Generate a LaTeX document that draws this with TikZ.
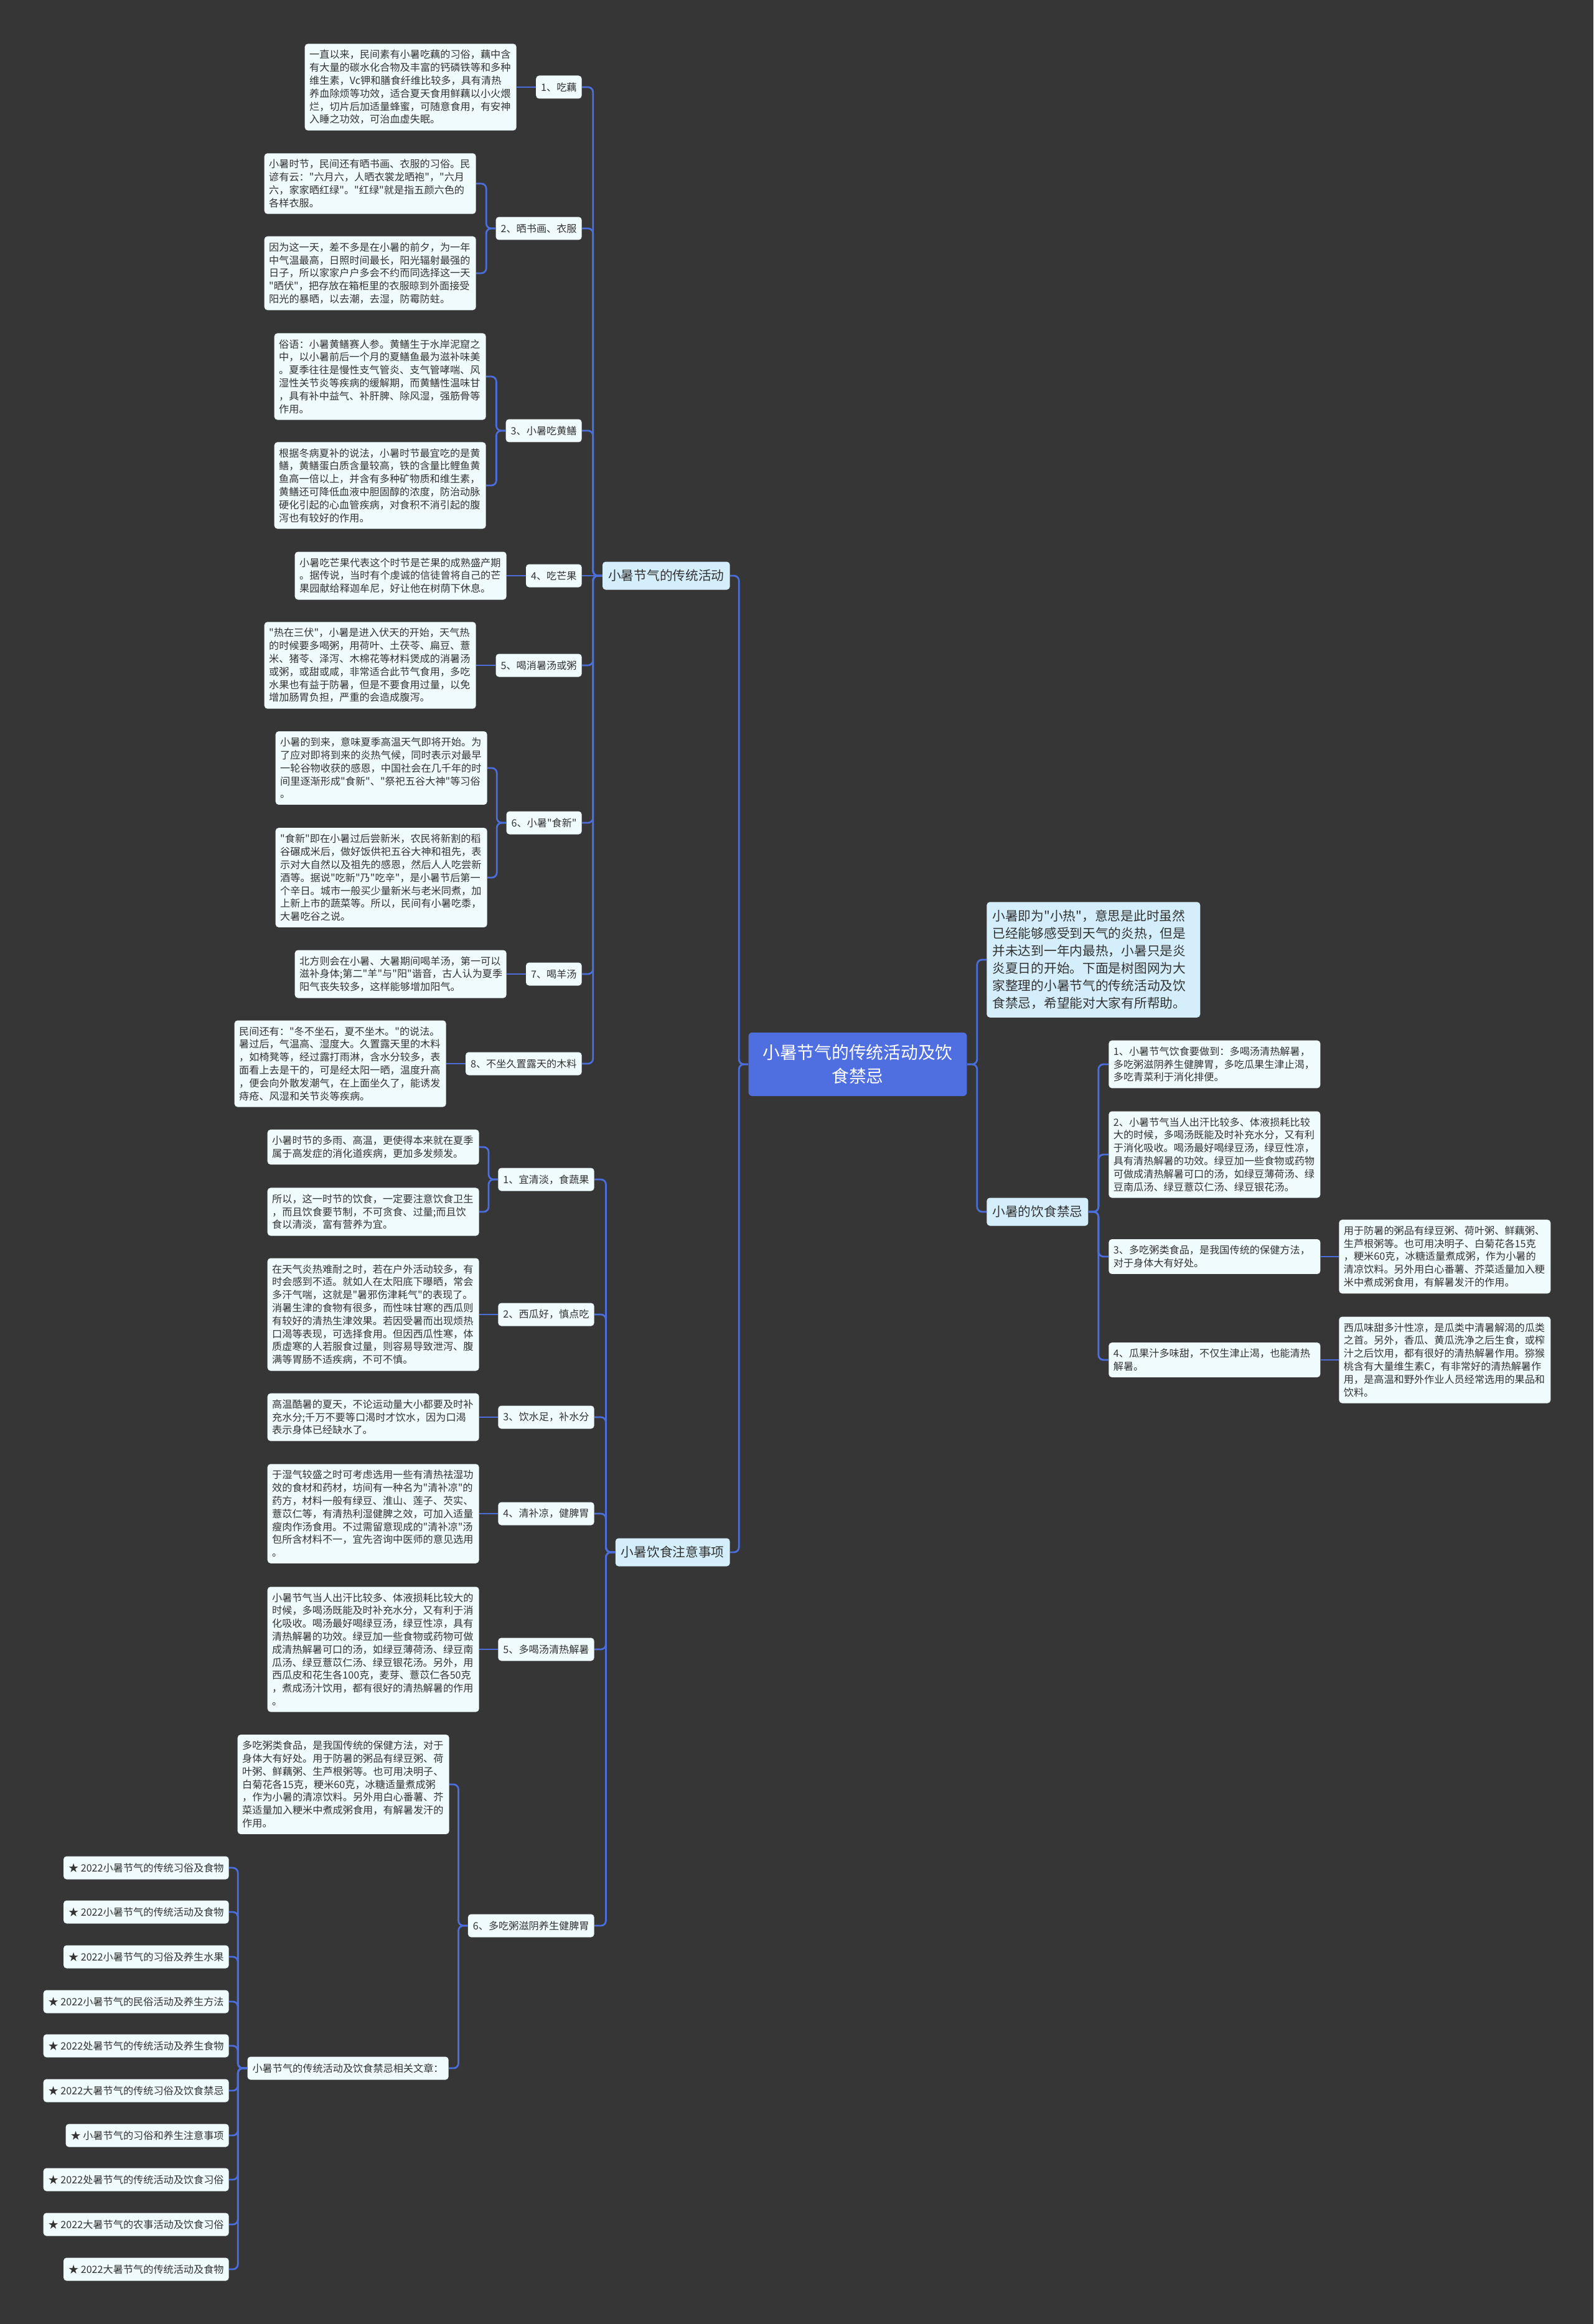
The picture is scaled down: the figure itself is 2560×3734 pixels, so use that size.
\documentclass[tikz,border=0pt]{standalone}
\usepackage{fontspec}
\setmainfont{Noto Sans CJK SC}[Ligatures=TeXOff]
\usepackage{xcolor}
\usepackage{tikz}
\usetikzlibrary{positioning,calc}
\definecolor{bgdark}{HTML}{363636}
\definecolor{linkblue}{HTML}{4B6EDB}
\definecolor{rootblue}{HTML}{4F6FE0}
\definecolor{mainfill}{HTML}{D4EFFB}
\definecolor{notefill}{HTML}{F0FBFD}
\definecolor{inkgray}{HTML}{333333}

\begin{document}
\begin{tikzpicture}[x=0.02cm, y=-0.02cm,
    rootbox/.style={rectangle, rounded corners=0.12cm, fill=rootblue, text=white, align=center, minimum width=7.02cm, minimum height=2.04cm, font=\fontsize{15.8}{21.3}\selectfont},
    mainbox/.style={rectangle, rounded corners=0.1cm, fill=mainfill, text=inkgray, inner xsep=0.18cm, minimum height=0.9cm, font=\fontsize{11.8}{14}\selectfont},
    introbox/.style={rectangle, rounded corners=0.1cm, fill=mainfill, text=inkgray, align=left, text width=6.5cm, inner xsep=0.18cm, inner ysep=0.26cm, font=\fontsize{11.8}{15.9}\selectfont},
    subbox/.style={rectangle, rounded corners=0.1cm, fill=notefill, text=inkgray, inner xsep=0.16cm, minimum height=0.74cm, font=\fontsize{9.2}{11.84}\selectfont},
    notebox/.style={rectangle, rounded corners=0.1cm, fill=notefill, text=inkgray, align=left, text width=6.5cm, inner xsep=0.15cm, inner ysep=0.2cm, font=\fontsize{9.2}{11.84}\selectfont},
    conn/.style={draw=linkblue, line width=1.6pt, rounded corners=0.16cm}
]
    % background
    \fill[bgdark] (0,0) rectangle (2560,3734);

    % centre
    \node[rootbox] (root) at (1378,1710) {小暑节气的传统活动及饮\\食禁忌};

    % first level
    \node[mainbox, anchor=east] (tra) at (1173,925) {小暑节气的传统活动};
    \node[mainbox, anchor=east] (zhu) at (1173,2494) {小暑饮食注意事项};
    \node[introbox, anchor=west] (intro) at (1585,1542) {
        小暑即为"小热"，意思是此时虽然\\
        已经能够感受到天气的炎热，但是\\
        并未达到一年内最热，小暑只是炎\\
        炎夏日的开始。下面是树图网为大\\
        家整理的小暑节气的传统活动及饮\\
        食禁忌，希望能对大家有所帮助。
    };
    \node[mainbox, anchor=west] (jin) at (1585,1947) {小暑的饮食禁忌};

    % traditional activities
    \node[subbox, anchor=east] (n1) at (935,140) {1、吃藕};
    \node[subbox, anchor=east] (n2) at (935,367) {2、晒书画、衣服};
    \node[subbox, anchor=east] (n3) at (935,692) {3、小暑吃黄鳝};
    \node[subbox, anchor=east] (n4) at (935,925) {4、吃芒果};
    \node[subbox, anchor=east] (n5) at (935,1069) {5、喝消暑汤或粥};
    \node[subbox, anchor=east] (n6) at (935,1322) {6、小暑"食新"};
    \node[subbox, anchor=east] (n7) at (935,1565) {7、喝羊汤};
    \node[subbox, anchor=east] (n8) at (935,1709) {8、不坐久置露天的木料};

    \node[notebox, anchor=east] (a1) at (830,140) {
        一直以来，民间素有小暑吃藕的习俗，藕中含\\
        有大量的碳水化合物及丰富的钙磷铁等和多种\\
        维生素，Vc钾和膳食纤维比较多，具有清热\\
        养血除烦等功效，适合夏天食用鲜藕以小火煨\\
        烂，切片后加适量蜂蜜，可随意食用，有安神\\
        入睡之功效，可治血虚失眠。
    };
    \node[notebox, anchor=east] (a2a) at (765,295) {
        小暑时节，民间还有晒书画、衣服的习俗。民\\
        谚有云："六月六，人晒衣裳龙晒袍"，"六月\\
        六，家家晒红绿"。"红绿"就是指五颜六色的\\
        各样衣服。
    };
    \node[notebox, anchor=east] (a2b) at (765,439) {
        因为这一天，差不多是在小暑的前夕，为一年\\
        中气温最高，日照时间最长，阳光辐射最强的\\
        日子，所以家家户户多会不约而同选择这一天\\
        "晒伏"，把存放在箱柜里的衣服晾到外面接受\\
        阳光的暴晒，以去潮，去湿，防霉防蛀。
    };
    \node[notebox, anchor=east] (a3a) at (781,605) {
        俗语：小暑黄鳝赛人参。黄鳝生于水岸泥窟之\\
        中，以小暑前后一个月的夏鳝鱼最为滋补味美\\
        。夏季往往是慢性支气管炎、支气管哮喘、风\\
        湿性关节炎等疾病的缓解期，而黄鳝性温味甘\\
        ，具有补中益气、补肝脾、除风湿，强筋骨等\\
        作用。
    };
    \node[notebox, anchor=east] (a3b) at (781,780) {
        根据冬病夏补的说法，小暑时节最宜吃的是黄\\
        鳝，黄鳝蛋白质含量较高，铁的含量比鲤鱼黄\\
        鱼高一倍以上，并含有多种矿物质和维生素，\\
        黄鳝还可降低血液中胆固醇的浓度，防治动脉\\
        硬化引起的心血管疾病，对食积不消引起的腹\\
        泻也有较好的作用。
    };
    \node[notebox, anchor=east] (a4) at (814,925) {
        小暑吃芒果代表这个时节是芒果的成熟盛产期\\
        。据传说，当时有个虔诚的信徒曾将自己的芒\\
        果园献给释迦牟尼，好让他在树荫下休息。
    };
    \node[notebox, anchor=east] (a5) at (765,1069) {
        "热在三伏"，小暑是进入伏天的开始，天气热\\
        的时候要多喝粥，用荷叶、土茯苓、扁豆、薏\\
        米、猪苓、泽泻、木棉花等材料煲成的消暑汤\\
        或粥，或甜或咸，非常适合此节气食用，多吃\\
        水果也有益于防暑，但是不要食用过量，以免\\
        增加肠胃负担，严重的会造成腹泻。
    };
    \node[notebox, anchor=east] (a6a) at (783,1234) {
        小暑的到来，意味夏季高温天气即将开始。为\\
        了应对即将到来的炎热气候，同时表示对最早\\
        一轮谷物收获的感恩，中国社会在几千年的时\\
        间里逐渐形成"食新"、"祭祀五谷大神"等习俗\\
        。
    };
    \node[notebox, anchor=east] (a6b) at (783,1410) {
        "食新"即在小暑过后尝新米，农民将新割的稻\\
        谷碾成米后，做好饭供祀五谷大神和祖先，表\\
        示对大自然以及祖先的感恩，然后人人吃尝新\\
        酒等。据说"吃新"乃"吃辛"，是小暑节后第一\\
        个辛日。城市一般买少量新米与老米同煮，加\\
        上新上市的蔬菜等。所以，民间有小暑吃黍，\\
        大暑吃谷之说。
    };
    \node[notebox, anchor=east] (a7) at (814,1565) {
        北方则会在小暑、大暑期间喝羊汤，第一可以\\
        滋补身体;第二"羊"与"阳"谐音，古人认为夏季\\
        阳气丧失较多，这样能够增加阳气。
    };
    \node[notebox, anchor=east] (a8) at (717,1709) {
        民间还有："冬不坐石，夏不坐木。"的说法。\\
        暑过后，气温高、湿度大。久置露天里的木料\\
        ，如椅凳等，经过露打雨淋，含水分较多，表\\
        面看上去是干的，可是经太阳一晒，温度升高\\
        ，便会向外散发潮气，在上面坐久了，能诱发\\
        痔疮、风湿和关节炎等疾病。
    };

    % diet notes
    \node[subbox, anchor=east] (m1) at (955,1895) {1、宜清淡，食蔬果};
    \node[subbox, anchor=east] (m2) at (955,2112) {2、西瓜好，慎点吃};
    \node[subbox, anchor=east] (m3) at (955,2277) {3、饮水足，补水分};
    \node[subbox, anchor=east] (m4) at (955,2432) {4、清补凉，健脾胃};
    \node[subbox, anchor=east] (m5) at (955,2650) {5、多喝汤清热解暑};
    \node[subbox, anchor=east] (m6) at (955,3094) {6、多吃粥滋阴养生健脾胃};

    \node[notebox, anchor=east] (b1a) at (770,1843) {
        小暑时节的多雨、高温，更使得本来就在夏季\\
        属于高发症的消化道疾病，更加多发频发。
    };
    \node[notebox, anchor=east] (b1b) at (770,1947) {
        所以，这一时节的饮食，一定要注意饮食卫生\\
        ，而且饮食要节制，不可贪食、过量;而且饮\\
        食以清淡，富有营养为宜。
    };
    \node[notebox, anchor=east] (b2) at (770,2112) {
        在天气炎热难耐之时，若在户外活动较多，有\\
        时会感到不适。就如人在太阳底下曝晒，常会\\
        多汗气喘，这就是"暑邪伤津耗气"的表现了。\\
        消暑生津的食物有很多，而性味甘寒的西瓜则\\
        有较好的清热生津效果。若因受暑而出现烦热\\
        口渴等表现，可选择食用。但因西瓜性寒，体\\
        质虚寒的人若服食过量，则容易导致泄泻、腹\\
        满等胃肠不适疾病，不可不慎。
    };
    \node[notebox, anchor=east] (b3) at (770,2277) {
        高温酷暑的夏天，不论运动量大小都要及时补\\
        充水分;千万不要等口渴时才饮水，因为口渴\\
        表示身体已经缺水了。
    };
    \node[notebox, anchor=east] (b4) at (770,2432) {
        于湿气较盛之时可考虑选用一些有清热祛湿功\\
        效的食材和药材，坊间有一种名为"清补凉"的\\
        药方，材料一般有绿豆、淮山、莲子、芡实、\\
        薏苡仁等，有清热利湿健脾之效，可加入适量\\
        瘦肉作汤食用。不过需留意现成的"清补凉"汤\\
        包所含材料不一，宜先咨询中医师的意见选用\\
        。
    };
    \node[notebox, anchor=east] (b5) at (770,2650) {
        小暑节气当人出汗比较多、体液损耗比较大的\\
        时候，多喝汤既能及时补充水分，又有利于消\\
        化吸收。喝汤最好喝绿豆汤，绿豆性凉，具有\\
        清热解暑的功效。绿豆加一些食物或药物可做\\
        成清热解暑可口的汤，如绿豆薄荷汤、绿豆南\\
        瓜汤、绿豆薏苡仁汤、绿豆银花汤。另外，用\\
        西瓜皮和花生各100克，麦芽、薏苡仁各50克\\
        ，煮成汤汁饮用，都有很好的清热解暑的作用\\
        。
    };
    \node[notebox, anchor=east] (b6) at (722,2867) {
        多吃粥类食品，是我国传统的保健方法，对于\\
        身体大有好处。用于防暑的粥品有绿豆粥、荷\\
        叶粥、鲜藕粥、生芦根粥等。也可用决明子、\\
        白菊花各15克，粳米60克，冰糖适量煮成粥\\
        ，作为小暑的清凉饮料。另外用白心番薯、芥\\
        菜适量加入粳米中煮成粥食用，有解暑发汗的\\
        作用。
    };

    % related articles
    \node[subbox, anchor=east] (rel) at (721,3323) {小暑节气的传统活动及饮食禁忌相关文章：};
    \node[subbox, anchor=east] (art1) at (368,3001) {★ 2022小暑节气的传统习俗及食物};
    \node[subbox, anchor=east] (art2) at (368,3072) {★ 2022小暑节气的传统活动及食物};
    \node[subbox, anchor=east] (art3) at (368,3144) {★ 2022小暑节气的习俗及养生水果};
    \node[subbox, anchor=east] (art4) at (368,3216) {★ 2022小暑节气的民俗活动及养生方法};
    \node[subbox, anchor=east] (art5) at (368,3287) {★ 2022处暑节气的传统活动及养生食物};
    \node[subbox, anchor=east] (art6) at (368,3359) {★ 2022大暑节气的传统习俗及饮食禁忌};
    \node[subbox, anchor=east] (art7) at (368,3431) {★ 小暑节气的习俗和养生注意事项};
    \node[subbox, anchor=east] (art8) at (368,3502) {★ 2022处暑节气的传统活动及饮食习俗};
    \node[subbox, anchor=east] (art9) at (368,3574) {★ 2022大暑节气的农事活动及饮食习俗};
    \node[subbox, anchor=east] (art10) at (368,3646) {★ 2022大暑节气的传统活动及食物};

    % diet taboos
    \node[notebox, anchor=west] (r1) at (1781,1710) {
        1、小暑节气饮食要做到：多喝汤清热解暑，\\
        多吃粥滋阴养生健脾胃，多吃瓜果生津止渴，\\
        多吃青菜利于消化排便。
    };
    \node[notebox, anchor=west] (r2) at (1781,1855) {
        2、小暑节气当人出汗比较多、体液损耗比较\\
        大的时候，多喝汤既能及时补充水分，又有利\\
        于消化吸收。喝汤最好喝绿豆汤，绿豆性凉，\\
        具有清热解暑的功效。绿豆加一些食物或药物\\
        可做成清热解暑可口的汤，如绿豆薄荷汤、绿\\
        豆南瓜汤、绿豆薏苡仁汤、绿豆银花汤。
    };
    \node[notebox, anchor=west] (r3) at (1781,2019) {
        3、多吃粥类食品，是我国传统的保健方法，\\
        对于身体大有好处。
    };
    \node[notebox, anchor=west] (r4) at (1781,2185) {
        4、瓜果汁多味甜，不仅生津止渴，也能清热\\
        解暑。
    };
    \node[notebox, anchor=west] (r3c) at (2151,2019) {
        用于防暑的粥品有绿豆粥、荷叶粥、鲜藕粥、\\
        生芦根粥等。也可用决明子、白菊花各15克\\
        ，粳米60克，冰糖适量煮成粥，作为小暑的\\
        清凉饮料。另外用白心番薯、芥菜适量加入粳\\
        米中煮成粥食用，有解暑发汗的作用。
    };
    \node[notebox, anchor=west] (r4c) at (2151,2185) {
        西瓜味甜多汁性凉，是瓜类中清暑解渴的瓜类\\
        之首。另外，香瓜、黄瓜洗净之后生食，或榨\\
        汁之后饮用，都有很好的清热解暑作用。猕猴\\
        桃含有大量维生素C，有非常好的清热解暑作\\
        用，是高温和野外作业人员经常选用的果品和\\
        饮料。
    };

    % connectors
    \draw[conn] (root.west) -- ++(-15,0) |- (tra.east);
    \draw[conn] (root.west) -- ++(-15,0) |- (zhu.east);
    \draw[conn] (root.east) -- ++(16,0) |- (intro.west);
    \draw[conn] (root.east) -- ++(16,0) |- (jin.west);

    \draw[conn] (tra.west) -- ++(-15,0) |- (n1.east);
    \draw[conn] (tra.west) -- ++(-15,0) |- (n2.east);
    \draw[conn] (tra.west) -- ++(-15,0) |- (n3.east);
    \draw[conn] (tra.west) -- (n4.east);
    \draw[conn] (tra.west) -- ++(-15,0) |- (n5.east);
    \draw[conn] (tra.west) -- ++(-15,0) |- (n6.east);
    \draw[conn] (tra.west) -- ++(-15,0) |- (n7.east);
    \draw[conn] (tra.west) -- ++(-15,0) |- (n8.east);

    \draw[conn] (n1.west) -- (a1.east);
    \draw[conn] (n2.west) -- ++(-15,0) |- (a2a.east);
    \draw[conn] (n2.west) -- ++(-15,0) |- (a2b.east);
    \draw[conn] (n3.west) -- ++(-15,0) |- (a3a.east);
    \draw[conn] (n3.west) -- ++(-15,0) |- (a3b.east);
    \draw[conn] (n4.west) -- (a4.east);
    \draw[conn] (n5.west) -- (a5.east);
    \draw[conn] (n6.west) -- ++(-15,0) |- (a6a.east);
    \draw[conn] (n6.west) -- ++(-15,0) |- (a6b.east);
    \draw[conn] (n7.west) -- (a7.east);
    \draw[conn] (n8.west) -- (a8.east);

    \draw[conn] (zhu.west) -- ++(-15,0) |- (m1.east);
    \draw[conn] (zhu.west) -- ++(-15,0) |- (m2.east);
    \draw[conn] (zhu.west) -- ++(-15,0) |- (m3.east);
    \draw[conn] (zhu.west) -- ++(-15,0) |- (m4.east);
    \draw[conn] (zhu.west) -- ++(-15,0) |- (m5.east);
    \draw[conn] (zhu.west) -- ++(-15,0) |- (m6.east);

    \draw[conn] (m1.west) -- ++(-15,0) |- (b1a.east);
    \draw[conn] (m1.west) -- ++(-15,0) |- (b1b.east);
    \draw[conn] (m2.west) -- (b2.east);
    \draw[conn] (m3.west) -- (b3.east);
    \draw[conn] (m4.west) -- (b4.east);
    \draw[conn] (m5.west) -- (b5.east);
    \draw[conn] (m6.west) -- ++(-15,0) |- (b6.east);
    \draw[conn] (m6.west) -- ++(-15,0) |- (rel.east);

    \draw[conn] (rel.west) -- ++(-15,0) |- (art1.east);
    \draw[conn] (rel.west) -- ++(-15,0) |- (art2.east);
    \draw[conn] (rel.west) -- ++(-15,0) |- (art3.east);
    \draw[conn] (rel.west) -- ++(-15,0) |- (art4.east);
    \draw[conn] (rel.west) -- ++(-15,0) |- (art5.east);
    \draw[conn] (rel.west) -- ++(-15,0) |- (art6.east);
    \draw[conn] (rel.west) -- ++(-15,0) |- (art7.east);
    \draw[conn] (rel.west) -- ++(-15,0) |- (art8.east);
    \draw[conn] (rel.west) -- ++(-15,0) |- (art9.east);
    \draw[conn] (rel.west) -- ++(-15,0) |- (art10.east);

    \draw[conn] (jin.east) -- ++(16,0) |- (r1.west);
    \draw[conn] (jin.east) -- ++(16,0) |- (r2.west);
    \draw[conn] (jin.east) -- ++(16,0) |- (r3.west);
    \draw[conn] (jin.east) -- ++(16,0) |- (r4.west);
    \draw[conn] (r3.east) -- (r3c.west);
    \draw[conn] (r4.east) -- (r4c.west);
\end{tikzpicture}
\end{document}
